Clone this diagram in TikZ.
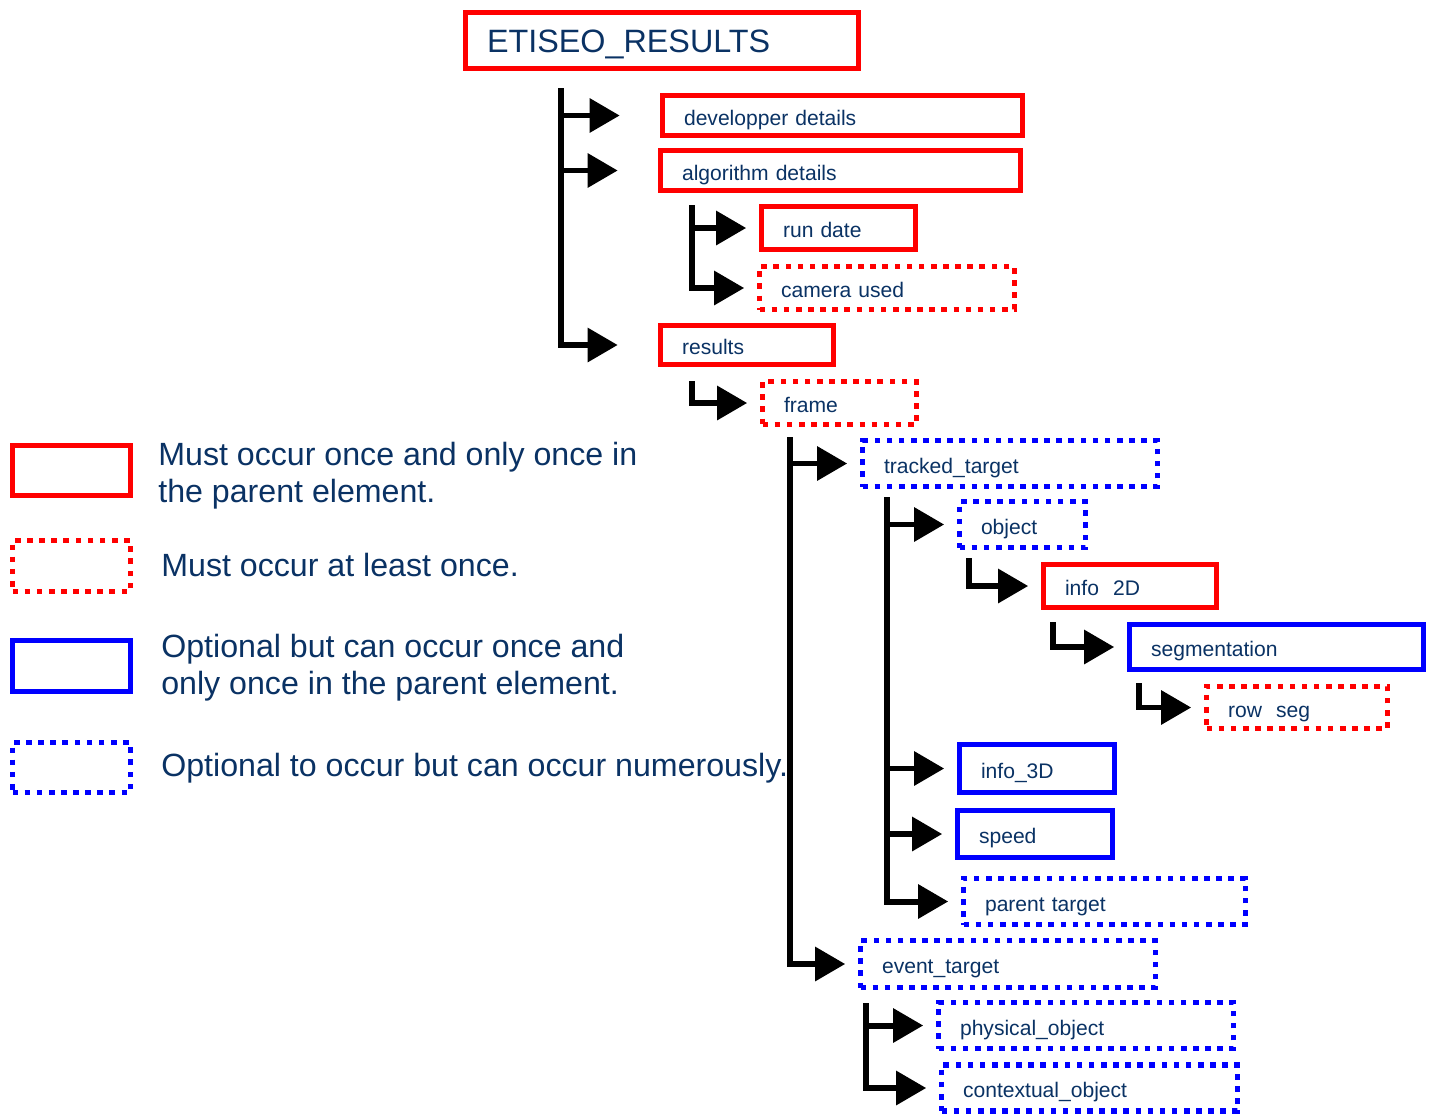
\documentclass[tikz,border=0pt]{standalone}
\usepackage{fontspec}
\setmainfont{Liberation Sans}
\usetikzlibrary{arrows.meta}
\definecolor{navy}{RGB}{10,50,100}
\definecolor{boxred}{RGB}{255,0,0}
\definecolor{boxblue}{RGB}{0,0,255}
\tikzset{
  elem/.style={draw, line width=3.2pt, text=navy, font=\fontsize{12}{14}\selectfont,
    inner xsep=0.43cm, inner ysep=0pt, align=left, text height=11.3pt, text depth=0pt},
  once/.style={elem, draw=boxred},
  atleast/.style={elem, draw=boxred, dash pattern=on 3.2pt off 3.7pt},
  optonce/.style={elem, draw=boxblue},
  optmany/.style={elem, draw=boxblue, dash pattern=on 3.2pt off 3.7pt},
  link/.style={line width=3.4pt, -{Triangle[length=0.6cm,width=0.66cm]}, shorten >=0.25cm},
  longlink/.style={link, shorten >=0.8cm},
  legtext/.style={text=navy, font=\fontsize{18.3}{21}\selectfont, inner sep=0pt, align=left}
}
\begin{document}
\begin{tikzpicture}[x=0.02cm, y=-0.02cm]
    \useasboundingbox (0,0) rectangle (1434,1113);

    % Root element and its direct children
    \node[once, text width=7cm, minimum height=1.12cm, text height=14.2pt] (root) at (662,40.5)
        {\fontsize{18.4}{21}\selectfont ETISEO\_RESULTS};
    \node[once, text width=6.34cm, minimum height=0.8cm] (dev) at (842.5,115.5) {developper details};
    \node[once, text width=6.34cm, minimum height=0.8cm] (alg) at (840.5,170.5) {algorithm details};
    \node[once, text width=2.22cm, minimum height=0.86cm] (rundate) at (838.5,228) {run date};
    \node[atleast, text width=4.24cm, minimum height=0.86cm] (camera) at (887,288) {camera used};
    \node[once, text width=2.6cm, minimum height=0.78cm] (results) at (747,345) {results};
    \node[atleast, text width=2.22cm, minimum height=0.86cm] (frame) at (839.5,403) {frame};

    % Targets inside a frame
    \node[optmany, text width=5.04cm, minimum height=0.92cm] (tracked) at (1010,463.5) {tracked\_target};
    \node[optmany, text width=1.66cm, minimum height=0.92cm] (object) at (1022.5,524.5) {object};
    \node[once, text width=2.6cm, minimum height=0.86cm] (info2d) at (1130,586) {info\ \ 2D};
    \node[optonce, text width=5.02cm, minimum height=0.9cm] (segm) at (1276.5,647) {segmentation};
    \node[atleast, text width=2.76cm, minimum height=0.84cm] (rowseg) at (1297,707.5) {row\ \ seg};
    \node[optonce, text width=2.24cm, minimum height=0.96cm] (info3d) at (1037,768.5) {info\_3D};
    \node[optonce, text width=2.24cm, minimum height=0.94cm] (speed) at (1035,834) {speed};
    \node[optmany, text width=4.78cm, minimum height=0.92cm] (parent) at (1104.5,901.5) {parent target};
    \node[optmany, text width=5.04cm, minimum height=0.94cm] (event) at (1008,964) {event\_target};
    \node[optmany, text width=5.04cm, minimum height=0.92cm] (physical) at (1086,1025.5) {physical\_object};
    \node[optmany, text width=5.06cm, minimum height=0.92cm] (contextual) at (1089.5,1088) {contextual\_object};

    % Tops of the tree trunks
    \coordinate (rootT) at (561,88);
    \coordinate (algT) at (692,205);
    \coordinate (resT) at (692,381);
    \coordinate (frameT) at (790,437);
    \coordinate (trackT) at (887,497);
    \coordinate (objT) at (969,558);
    \coordinate (infoT) at (1053,622);
    \coordinate (segT) at (1139,683);
    \coordinate (eventT) at (866,1003);

    % Connectors
    \draw[longlink] (rootT) |- (dev.west);
    \draw[longlink] (rootT) |- (alg.west);
    \draw[longlink] (rootT) |- (results.west);
    \draw[link] (algT) |- (rundate.west);
    \draw[link] (algT) |- (camera.west);
    \draw[link] (resT) |- (frame.west);
    \draw[link] (frameT) |- (tracked.west);
    \draw[link] (frameT) |- (event.west);
    \draw[link] (trackT) |- (object.west);
    \draw[link] (trackT) |- (info3d.west);
    \draw[link] (trackT) |- (speed.west);
    \draw[link] (trackT) |- (parent.west);
    \draw[link] (objT) |- (info2d.west);
    \draw[link] (infoT) |- (segm.west);
    \draw[link] (segT) |- (rowseg.west);
    \draw[link] (eventT) |- (physical.west);
    \draw[link] (eventT) |- (contextual.west);

    % Legend
    \node[once, minimum width=2.36cm, minimum height=1cm, inner sep=0pt] (keyonce) at (71.5,470.5) {};
    \node[atleast, minimum width=2.36cm, minimum height=1.02cm, inner sep=0pt] (keyleast) at (71.5,566) {};
    \node[optonce, minimum width=2.36cm, minimum height=1.02cm, inner sep=0pt] (keyoptonce) at (71.5,666) {};
    \node[optmany, minimum width=2.36cm, minimum height=1cm, inner sep=0pt] (keyoptmany) at (71.5,767.5) {};
    \node[legtext, anchor=west] (txtonce) at (158,475.5) {Must occur once and only once in\\the parent element.};
    \node[legtext, anchor=base west] (txtleast) at (161,576) {Must occur at least once.};
    \node[legtext, anchor=west] (txtoptonce) at (161,667.5) {Optional but can occur once and\\only once in the parent element.};
    \node[legtext, anchor=base west] (txtoptmany) at (161,776) {Optional to occur but can occur numerously.};
\end{tikzpicture}
\end{document}
